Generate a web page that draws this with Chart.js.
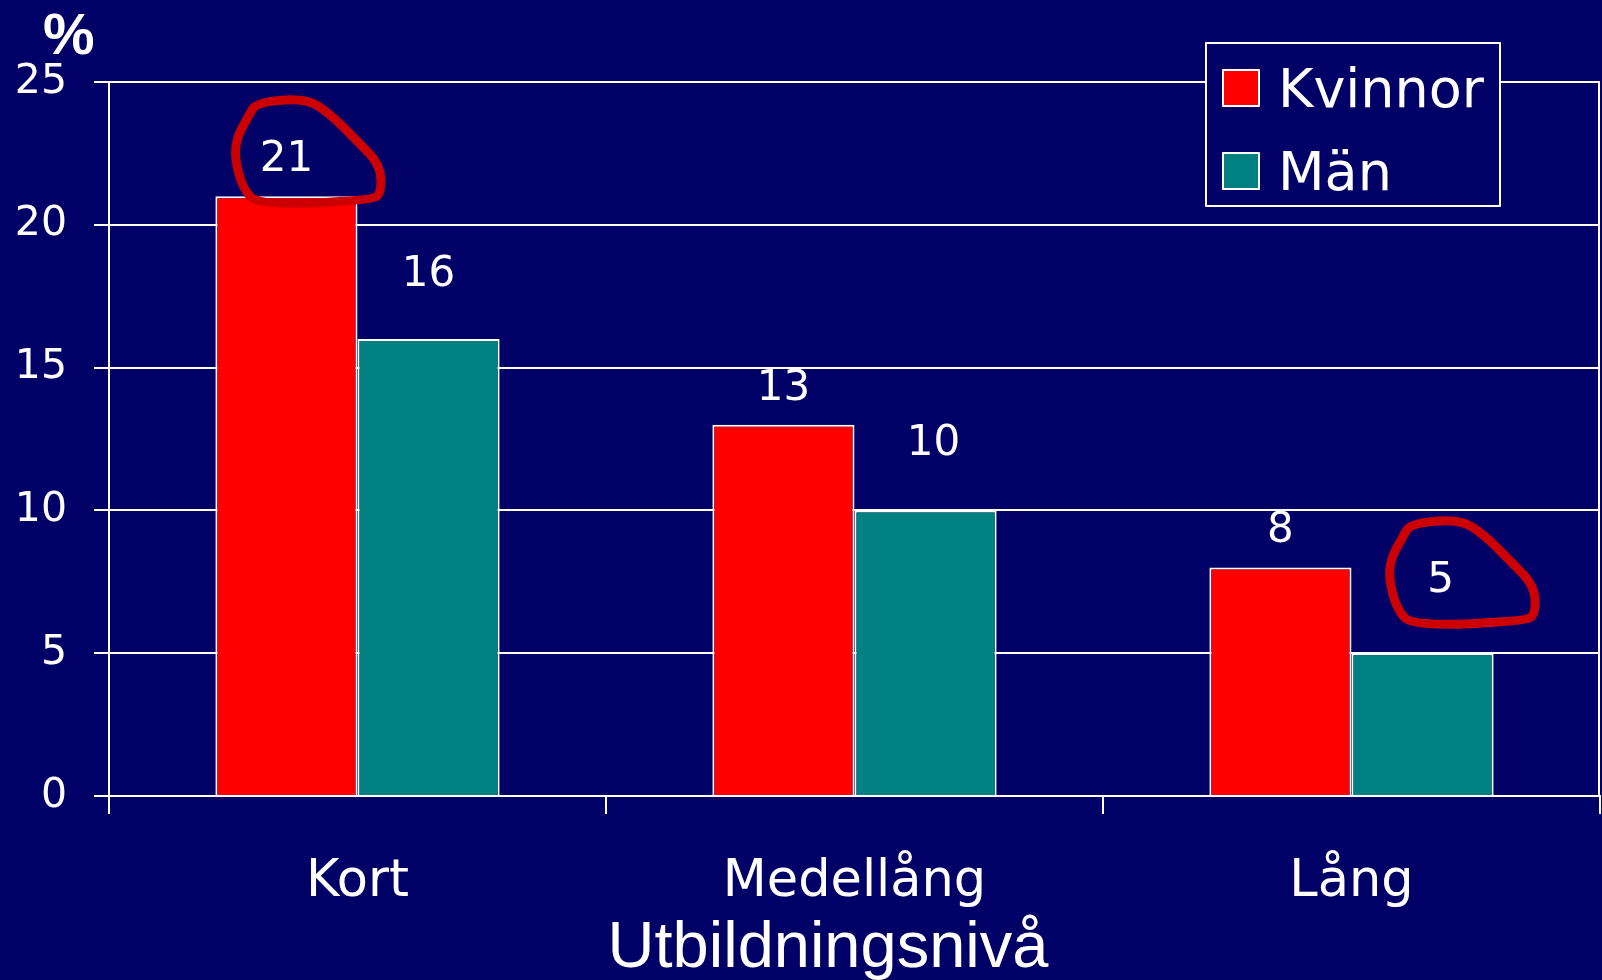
<!DOCTYPE html>
<html>
<head>
<meta charset="utf-8">
<script src="https://cdn.jsdelivr.net/npm/chart.js"></script>
<style>
  html, body { margin: 0; padding: 0; background: #000066; }
  #wrap { width: 1602px; height: 980px; }
</style>
</head>
<body>
<div id="wrap"><canvas id="utbildning"></canvas></div>
<script>
const categories = ['Kort', 'Medellång', 'Lång'];
const kvinnor = [21, 13, 8];
const man = [16, 10, 5];
const yTicks = [0, 5, 10, 15, 20, 25];

const navy = '#000066';
const red = '#ff0000';
const teal = '#008080';

// where the value labels sit relative to the bar top [dx, lift]
const labelPlace = [
    [[0, 36], [0, 36], [0, 36]],
    [[0, 64], [8, 66], [18, 72]]
];

// hand drawn marks around two of the labels (dataset index, bar index)
const circled = [[0, 0], [1, 2]];
const circleShape = [[-30, -58], [20, -62], [44, -46], [70, -20], [94, 5], [95, 32], [86, 40],
                     [-28, 45], [-44, 28], [-52, -4], [-49, -24], [-38, -44]];

const extras = {
    id: 'extras',
    beforeDraw(chart) {
        const c = chart.ctx;
        c.save();
        c.fillStyle = navy;
        c.fillRect(0, 0, chart.width, chart.height);
        c.restore();
    },
    afterDatasetsDraw(chart) {
        const c = chart.ctx;
        const area = chart.chartArea;
        c.save();
        // right edge of plot
        c.strokeStyle = '#ffffff';
        c.lineWidth = 2;
        c.beginPath();
        c.moveTo(area.right - 1, area.top);
        c.lineTo(area.right - 1, area.bottom);
        c.stroke();

        // value labels
        c.fillStyle = '#ffffff';
        c.font = '42px "DejaVu Sans"';
        c.textAlign = 'center';
        c.textBaseline = 'middle';
        const spots = [];
        chart.data.datasets.forEach((ds, di) => {
            const meta = chart.getDatasetMeta(di);
            spots[di] = [];
            meta.data.forEach((bar, i) => {
                const [dx, lift] = labelPlace[di][i];
                const x = bar.x + dx;
                const y = bar.y - lift;
                c.fillText(String(ds.data[i]), x, y);
                spots[di][i] = [x, y];
            });
        });

        // red hand drawn rings, smoothed through the shape points
        c.strokeStyle = '#cc0000';
        c.lineWidth = 9;
        c.lineJoin = 'round';
        c.lineCap = 'round';
        circled.forEach(([di, i]) => {
            const [cx, cy] = spots[di][i];
            const pts = circleShape.map(([dx, dy]) => [cx + dx, cy + dy]);
            const n = pts.length;
            const mid = k => {
                const a = pts[k % n], b = pts[(k + 1) % n];
                return [(a[0] + b[0]) / 2, (a[1] + b[1]) / 2];
            };
            c.beginPath();
            const m0 = mid(0);
            c.moveTo(m0[0], m0[1]);
            for (let k = 1; k <= n; k++) {
                const p = pts[k % n];
                const m = mid(k);
                c.quadraticCurveTo(p[0], p[1], m[0], m[1]);
            }
            c.closePath();
            c.stroke();
        });

        // legend box
        const lx = 1206, ly = 43, lw = 294, lh = 163;
        c.fillStyle = navy;
        c.fillRect(lx, ly, lw, lh);
        c.strokeStyle = '#ffffff';
        c.lineWidth = 2;
        c.strokeRect(lx, ly, lw, lh);
        c.font = '54px "DejaVu Sans"';
        c.textAlign = 'left';
        chart.data.datasets.forEach((ds, di) => {
            const sy = 70 + di * 83;
            c.fillStyle = ds.backgroundColor;
            c.fillRect(1223, sy, 36, 36);
            c.strokeStyle = '#ffffff';
            c.strokeRect(1223, sy, 36, 36);
            c.fillStyle = '#ffffff';
            c.fillText(ds.label, 1278, sy + 23);
        });

        // % sign and x axis title
        c.font = 'bold 58px "Liberation Sans"';
        c.textBaseline = 'alphabetic';
        c.fillText('%', 43, 54);
        c.font = '65px "Liberation Sans"';
        c.textAlign = 'center';
        c.fillText('Utbildningsnivå', 828, 967);
        c.restore();
    }
};

const ctx = document.getElementById('utbildning').getContext('2d');
const chart = new Chart(ctx, {
    type: 'bar',
    data: {
        labels: categories,
        datasets: [{
            label: 'Kvinnor',
            data: kvinnor,
            backgroundColor: red,
            borderColor: '#ffffff',
            borderWidth: 2,
            borderSkipped: 'bottom'
        }, {
            label: 'Män',
            data: man,
            backgroundColor: teal,
            borderColor: '#ffffff',
            borderWidth: 2,
            borderSkipped: 'bottom'
        }]
    },
    options: {
        responsive: true,
        maintainAspectRatio: false,
        animation: false,
        layout: { padding: { top: 82, right: 2, left: 0, bottom: 0 } },
        plugins: {
            legend: { display: false },
            tooltip: { enabled: false }
        },
        datasets: {
            bar: { categoryPercentage: 0.572, barPercentage: 1.0 }
        },
        scales: {
            x: {
                grid: {
                    offset: true,
                    drawOnChartArea: false,
                    drawTicks: true,
                    tickLength: 18,
                    color: '#ffffff',
                    lineWidth: 2
                },
                border: { color: '#ffffff', width: 2 },
                ticks: {
                    color: '#ffffff',
                    font: { family: 'DejaVu Sans', size: 51 },
                    padding: 38,
                    maxRotation: 0
                },
                afterFit(scale) { scale.height = 184; }
            },
            y: {
                min: 0,
                max: 25,
                afterBuildTicks(scale) { scale.ticks = yTicks.map(v => ({ value: v })); },
                grid: {
                    color: '#ffffff',
                    lineWidth: 2,
                    tickLength: 15
                },
                border: { color: '#ffffff', width: 2 },
                ticks: {
                    color: '#ffffff',
                    font: { family: 'DejaVu Sans', size: 41 },
                    padding: 27
                },
                afterFit(scale) { scale.width = 109; }
            }
        }
    },
    plugins: [extras]
});
</script>
</body>
</html>
